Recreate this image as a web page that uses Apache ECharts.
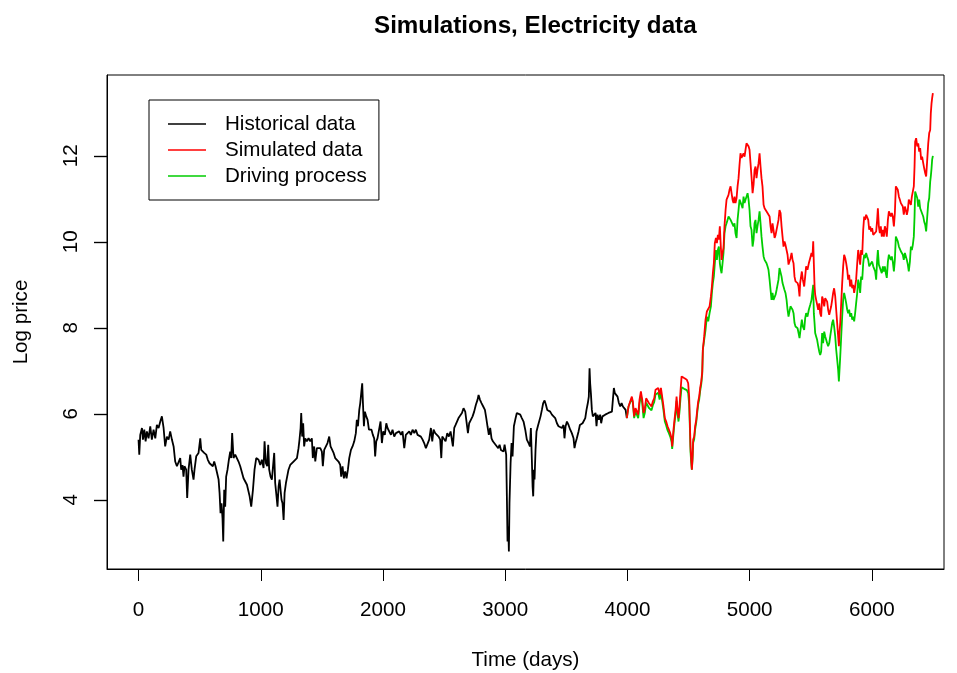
<!DOCTYPE html>
<html>
<head>
<meta charset="utf-8">
<title>Simulations, Electricity data</title>
<script src="https://cdn.jsdelivr.net/npm/echarts@6/dist/echarts.min.js"></script>
<style>
  html, body { margin: 0; padding: 0; background: #ffffff; }
  #chart { width: 957px; height: 673px; }
</style>
</head>
<body>
<div id="chart"></div>
<script>
// Tick positions on both axes
const xTicks = [0, 1000, 2000, 3000, 4000, 5000, 6000];
const yTicks = [4, 6, 8, 10, 12];

// Observed electricity log prices: [day, log price]
const historical = [
  [0,5.40],[6,5.05],[14,5.51],[28,5.67],[36,5.40],[47,5.63],[58,5.36],[68,5.59],[82,5.43],[96,5.71],
  [109,5.40],[123,5.63],[137,5.43],[150,5.74],[164,5.67],[178,5.82],[191,5.94],[205,5.67],[218,5.24],[232,5.47],
  [246,5.40],[259,5.59],[273,5.40],[287,5.24],[300,4.89],[314,4.78],[327,4.81],[341,4.97],[349,4.70],[360,4.81],
  [368,4.54],[376,4.78],[390,4.70],[398,4.04],[409,4.70],[423,5.05],[436,4.70],[450,4.47],[458,4.70],[472,5.01],
  [491,5.09],[505,5.43],[513,5.16],[526,5.16],[537,5.09],[554,5.05],[567,4.93],[581,4.85],[595,4.89],[608,4.78],
  [619,4.89],[630,4.78],[641,4.81],[655,4.47],[663,4.16],[671,3.69],[679,3.92],[687,3.57],[693,3.03],[701,4.23],
  [709,3.84],[717,4.54],[728,4.70],[739,4.93],[750,5.12],[758,4.97],[766,5.55],[777,4.97],[791,5.05],[805,5.05],
  [818,4.89],[832,4.78],[846,4.78],[859,4.50],[873,4.54],[887,4.35],[900,4.31],[909,4.08],[922,3.84],[936,4.23],
  [949,4.70],[963,4.97],[982,4.93],
  [996,4.81],[1009,4.93],[1023,4.74],[1031,5.36],[1042,4.85],[1053,4.78],[1061,5.28],[1069,4.70],[1080,4.54],[1091,4.47],
  [1102,4.50],[1110,5.09],[1118,4.39],[1129,4.08],[1137,3.84],[1146,4.31],[1154,4.47],[1162,4.23],[1170,4.00],[1178,3.92],
  [1187,3.53],[1195,4.16],[1206,4.39],[1216,4.54],[1227,4.70],[1241,4.81],[1255,4.78],[1268,4.89],[1282,4.85],[1296,4.97],
  [1309,5.20],[1317,5.40],[1326,5.67],[1331,6.02],[1339,5.47],[1347,5.78],[1355,5.24],[1364,5.43],[1377,5.36],[1391,5.43],
  [1405,5.36],[1418,5.43],[1426,4.97],[1437,5.24],[1446,4.89],[1459,5.20],[1473,5.16],[1487,5.20],[1500,5.12],[1508,4.78],
  [1519,5.16],[1533,5.12],[1546,5.32],[1560,5.47],[1571,5.24],[1582,5.24],[1596,5.09],[1609,4.97],[1623,4.93],[1636,4.89],
  [1650,4.81],[1658,4.54],[1669,4.78],[1680,4.50],[1691,4.66],[1702,4.50],[1713,4.70],[1724,4.97],[1738,5.16],[1751,5.24],
  [1765,5.36],[1778,5.55],[1786,5.86],[1795,5.71],[1806,6.09],[1814,6.25],[1822,6.48],[1830,6.71],[1836,6.25],[1844,5.71],
  [1852,6.05],[1863,5.94],[1874,5.86],[1885,5.63],[1896,5.59],[1906,5.63],[1917,5.51],[1928,5.43],[1936,5.01],[1945,5.36],
  [1955,5.43],[1969,5.47],[1980,5.82],[1991,5.32],[2002,5.59],[2015,5.51],
  [2027,5.78],[2037,5.67],[2051,5.63],[2065,5.51],[2078,5.63],[2092,5.47],[2106,5.55],[2119,5.51],[2133,5.59],[2147,5.51],
  [2160,5.59],[2174,5.20],[2187,5.51],[2201,5.47],[2215,5.59],[2228,5.51],[2242,5.63],[2256,5.55],[2269,5.63],[2283,5.51],
  [2297,5.47],[2310,5.47],[2324,5.40],[2337,5.32],[2351,5.20],[2365,5.24],[2378,5.40],[2392,5.67],[2403,5.36],[2414,5.63],
  [2427,5.55],[2441,5.59],[2455,5.47],[2468,5.40],[2477,4.97],[2485,5.47],[2498,5.51],[2512,5.36],[2526,5.55],[2539,5.47],
  [2553,5.59],[2564,5.63],[2572,5.24],[2583,5.67],[2594,5.74],[2605,5.78],[2618,5.90],[2632,5.86],[2646,6.02],[2659,6.13],
  [2673,6.05],[2686,6.09],[2695,5.55],[2705,5.78],[2719,5.86],[2733,5.94],[2746,6.05],[2760,6.21],[2774,6.33],[2782,6.44],
  [2793,6.33],[2806,6.25],[2820,6.17],[2834,6.09],[2845,5.90],[2855,5.71],[2866,5.51],[2877,5.67],[2888,5.43],[2899,5.36],
  [2910,5.40],[2921,5.28],[2932,5.32],[2943,5.20],[2954,5.28],[2965,5.16],[2976,5.20],[2986,5.12],[2995,5.28],
  [3008,5.05],[3014,4.00],[3019,3.03],[3025,3.38],[3030,2.80],[3035,3.92],[3044,4.85],[3052,5.32],[3060,5.01],
  [3071,5.71],[3082,5.86],[3095,6.02],[3109,6.02],[3123,5.98],[3136,5.90],[3150,5.82],[3164,5.63],[3177,5.40],[3191,5.32],
  [3202,5.24],[3210,5.67],[3218,4.93],[3224,4.31],[3229,4.08],[3235,4.70],[3240,4.47],[3248,5.16],[3256,5.59],[3267,5.71],
  [3278,5.74],[3289,5.94],[3300,6.09],[3311,6.25],[3322,6.31],[3333,6.21],[3344,6.09],[3355,6.05],[3368,6.05],[3382,5.98],
  [3395,6.02],[3409,5.90],[3423,5.78],[3436,5.71],[3450,5.74],[3464,5.67],[3477,5.74],[3485,5.43],[3494,5.71],[3505,5.82],
  [3518,5.74],[3532,5.63],[3545,5.55],[3559,5.43],[3567,5.20],[3575,5.32],[3586,5.43],[3600,5.59],[3611,5.74],[3622,5.71],
  [3633,5.78],[3644,5.74],[3655,5.90],[3665,6.09],[3676,6.25],[3684,6.40],[3690,7.06],[3695,6.71],[3701,6.48],[3709,6.09],
  [3717,5.94],[3728,5.98],[3739,6.02],[3747,5.71],[3755,5.98],[3766,5.86],[3777,5.98],[3785,5.78],[3796,5.94],[3807,5.98],
  [3818,5.98],[3832,6.02],[3845,6.02],[3859,6.05],[3873,6.05],[3881,6.33],[3889,6.60],[3897,6.48],[3908,6.52],[3919,6.40],
  [3930,6.25],[3941,6.17],[3952,6.25],[3963,6.17],[3974,6.21],[3985,6.09],[3995,5.90]
];

// Simulated path and its driving process: [day, simulated log price, driving process]
const simulation = [
  [3995,5.90,5.90],[4009,6.17,6.17],[4023,6.29,6.27],[4036,6.40,6.36],[4044,6.29,6.25],[4055,5.94,5.90],[4066,6.13,6.06],[4077,6.09,6.02],[4088,5.98,5.90],[4099,6.33,6.24],
  [4110,6.52,6.43],[4121,6.33,6.24],[4132,6.02,5.90],[4143,6.13,6.03],[4153,6.36,6.26],[4164,6.40,6.30],[4175,6.25,6.14],[4186,6.29,6.18],[4197,6.17,6.08],[4208,6.29,6.20],
  [4219,6.36,6.27],[4230,6.56,6.45],[4241,6.52,6.41],[4252,6.60,6.49],[4263,6.44,6.33],[4274,6.60,6.50],[4284,6.40,6.30],[4295,6.17,6.08],[4306,5.90,5.82],[4317,5.82,5.73],
  [4328,5.71,5.62],[4339,5.63,5.55],[4350,5.55,5.47],[4361,5.43,5.35],[4366,5.24,5.18],[4377,5.63,5.55],[4385,5.86,5.78],[4394,6.09,6.00],[4402,6.40,6.30],[4410,6.09,6.00],
  [4418,5.90,5.82],[4426,6.17,6.05],[4434,6.52,6.35],[4443,6.87,6.62],[4454,6.91,6.65],[4464,6.83,6.58],[4475,6.87,6.62],[4486,6.79,6.55],[4497,6.71,6.48],[4505,6.40,6.22],
  [4511,5.78,5.65],[4516,5.24,5.12],[4522,4.93,4.85],[4527,4.70,4.70],[4533,5.01,4.95],[4538,5.40,5.33],[4546,5.47,5.40],[4554,5.71,5.64],[4563,5.86,5.80],[4571,6.09,6.02],
  [4579,6.29,6.22],[4587,6.40,6.33],[4595,6.60,6.53],[4604,6.75,6.69],[4612,6.98,6.93],
  [4617,7.49,7.49],[4628,7.80,7.72],[4639,8.19,7.95],[4650,8.38,8.26],[4661,8.34,8.15],[4672,8.50,8.34],[4683,8.73,8.50],[4691,8.96,8.81],[4699,9.27,9.04],[4707,9.50,9.19],
  [4715,9.97,9.50],[4724,10.09,9.81],[4732,9.97,9.58],[4740,10.16,9.81],[4748,10.05,9.89],[4756,10.36,9.50],[4764,9.89,9.35],[4770,9.58,9.27],[4778,9.74,9.50],[4786,9.85,9.74],
  [4794,10.36,10.20],[4803,10.74,10.36],[4811,10.98,10.43],[4819,11.02,10.51],[4827,11.09,10.59],[4835,11.21,10.63],[4844,11.29,10.51],[4852,11.13,10.55],[4860,10.98,10.51],[4868,10.90,10.36],
  [4876,11.05,10.43],[4884,10.90,10.20],[4893,11.02,10.09],[4901,11.29,10.51],[4909,11.48,10.74],[4917,11.79,10.98],[4925,12.06,11.02],[4933,11.95,10.86],[4942,11.91,10.78],[4950,12.06,11.05],
  [4958,11.98,10.90],[4966,12.14,10.98],[4974,12.29,11.05],[4983,12.33,11.13],[4991,12.22,10.98],[4999,12.14,10.74],[5007,11.83,10.36],[5015,11.52,10.28],[5024,11.13,9.89],[5032,11.33,10.05],
  [5040,11.67,10.43],[5048,11.75,10.51],[5056,11.48,10.20],[5064,11.67,10.36],[5073,11.83,10.51],[5081,12.06,10.71],[5089,11.75,10.43],[5097,11.48,10.12],[5105,11.29,9.89],[5114,10.86,9.66],
  [5122,10.78,9.58],[5130,10.74,9.54],[5138,10.78,9.50],[5146,10.67,9.43],[5154,10.71,9.35],[5163,10.59,9.12],[5171,10.36,8.88],[5179,10.20,8.65],[5187,10.43,8.81],[5195,10.28,8.65],
  [5204,10.09,8.61],[5212,10.16,8.77],[5220,10.20,8.88],[5228,10.16,8.85],[5236,10.51,9.12],[5244,10.74,9.39],[5253,10.67,9.35],[5261,10.36,9.19],[5269,10.12,9.04],[5277,9.89,8.96],
  [5285,10.01,8.88],[5293,9.93,8.81],[5302,9.89,8.65],[5310,9.70,8.42],[5318,9.47,8.26],[5326,9.43,8.30],[5334,9.62,8.50],[5343,9.74,8.53],[5351,9.58,8.42],[5359,9.50,8.34],
  [5367,9.19,8.11],[5375,9.08,8.03],[5383,9.12,8.07],[5392,9.04,7.99],[5400,8.96,7.88],[5408,8.73,7.76],
  [5413,9.04,7.88],[5427,9.31,8.19],[5435,9.12,8.03],[5446,8.96,7.95],[5454,9.19,8.22],[5462,9.43,8.34],[5473,9.35,8.26],[5484,9.50,8.42],[5495,9.62,8.53],[5506,9.74,8.65],
  [5514,9.66,8.69],[5520,10.01,9.00],[5525,9.50,8.34],[5531,8.96,8.11],[5536,8.77,7.88],[5544,8.65,7.80],[5552,8.69,7.72],[5561,8.42,7.57],[5569,8.57,7.45],[5577,8.34,7.37],
  [5585,8.26,7.45],[5593,8.73,7.88],[5601,8.65,7.64],[5610,8.50,7.91],[5618,8.69,7.80],[5626,8.65,7.72],[5634,8.61,7.64],[5642,8.42,7.57],[5651,8.30,7.64],[5659,8.34,7.80],
  [5667,8.50,7.95],[5675,8.65,8.11],[5683,8.81,8.19],[5691,8.92,8.03],[5700,8.73,7.80],[5708,8.42,7.49],[5716,8.11,7.26],[5724,7.80,7.02],[5730,7.57,6.75],[5735,7.88,7.02],
  [5741,8.11,7.33],[5749,8.57,7.80],[5757,9.04,8.26],[5765,9.43,8.65],[5773,9.70,8.81],[5782,9.62,8.69],[5790,9.50,8.57],[5798,9.35,8.42],[5806,9.12,8.34],[5814,9.23,8.42],
  [5822,8.96,8.26],[5831,9.12,8.34],[5839,8.92,8.19],[5847,9.00,8.26],[5855,8.81,8.15],[5863,8.96,8.34],[5871,9.12,8.57],[5880,9.50,8.81],[5888,9.81,9.12],[5896,9.66,9.00],
  [5904,9.47,8.81],[5912,9.81,9.19],[5921,9.70,9.12],[5929,10.28,9.50],[5937,10.59,9.70],[5945,10.51,9.62],[5953,10.63,9.74],[5961,10.59,9.66],[5970,10.51,9.58],[5978,10.28,9.43],
  [5986,10.36,9.47],
  [5994,10.24,9.47],[6002,10.32,9.54],[6011,10.16,9.43],[6019,10.20,9.43],[6027,10.12,9.31],[6035,10.24,9.12],[6043,10.51,9.58],[6049,10.78,9.81],[6057,10.36,9.47],[6065,10.20,9.43],
  [6073,10.36,9.50],[6081,10.12,9.27],[6090,10.28,9.43],[6098,10.12,9.31],[6106,10.36,9.43],[6114,10.28,9.27],[6122,10.12,9.16],[6131,10.51,9.54],[6139,10.71,9.70],[6147,10.67,9.66],
  [6155,10.59,9.58],[6163,10.67,9.66],[6171,10.59,9.54],[6180,10.36,9.31],[6188,10.67,9.58],[6196,11.29,10.12],[6204,11.33,10.16],[6212,11.21,10.01],[6221,11.05,9.89],[6229,10.98,9.85],
  [6237,10.90,9.78],[6245,10.94,9.81],[6253,10.82,9.70],[6261,10.63,9.58],[6270,10.82,9.74],[6278,10.74,9.66],[6286,10.63,9.58],[6294,10.74,9.47],[6302,10.98,9.31],[6311,11.02,9.54],
  [6319,10.86,9.89],[6327,11.05,9.81],[6335,11.09,9.93],[6343,11.29,10.12],[6349,11.75,10.59],[6354,12.33,11.17],[6362,12.41,11.13],[6371,12.22,11.02],[6379,12.29,10.82],[6387,12.10,10.98],
  [6395,12.18,10.78],[6403,11.91,10.74],[6411,11.98,10.82],[6420,11.83,10.59],[6428,11.71,10.47],[6436,11.60,10.40],[6444,11.52,10.24],[6452,11.87,10.55],[6461,12.29,10.90],[6469,12.53,11.02],
  [6477,12.60,11.40],[6482,12.99,11.52],[6488,13.22,11.71],[6493,13.34,11.91],[6499,13.46,12.00]
];

const FONT = "'Liberation Sans', Arial, Helvetica, sans-serif";
const INK = '#000000';
const LABEL_SIZE = 20.6;
const X_MIN = -258, X_MAX = 6590;
const Y_MIN = 2.39, Y_MAX = 13.88;
const Y_TICK_LEN = 13;

const simulatedPath = simulation.map(r => [r[0], r[1]]);
const drivingPath = simulation.map(r => [r[0], r[2]]);

// Outward tick marks on the left axis, drawn by a custom series so they follow the y scale
function renderYTick(params, api) {
  const p = api.coord([X_MIN, api.value(0)]);
  const y = Math.round(p[1]) + 0.5;
  return {
    type: 'line',
    silent: true,
    shape: { x1: p[0] - Y_TICK_LEN, y1: y, x2: p[0], y2: y },
    style: { stroke: INK, lineWidth: 1.2 }
  };
}

const chart = echarts.init(document.getElementById('chart'), null, { renderer: 'canvas' });

chart.setOption({
  animation: false,
  title: {
    text: 'Simulations, Electricity data',
    left: 374,
    top: 14,
    padding: 0,
    textStyle: { fontFamily: FONT, fontSize: 24.2, fontWeight: 'bold', color: INK }
  },
  legend: {
    orient: 'vertical',
    left: 149,
    top: 100,
    padding: [11, 12, 11, 19],
    borderColor: INK,
    borderWidth: 1,
    borderRadius: 0,
    icon: 'rect',
    itemWidth: 38,
    itemHeight: 1.5,
    itemGap: 0,
    selectedMode: false,
    textStyle: { fontFamily: FONT, fontSize: LABEL_SIZE, lineHeight: 26, color: INK, padding: [0, 0, 0, 14] },
    data: ['Historical data', 'Simulated data', 'Driving process']
  },
  grid: {
    left: 107,
    right: 13,
    top: 75,
    bottom: 104,
    outerBoundsMode: 'none',
    show: true,
    borderColor: INK,
    borderWidth: 1
  },
  xAxis: {
    type: 'value',
    min: X_MIN,
    max: X_MAX,
    axisLine: { show: true, onZero: false, lineStyle: { color: INK, width: 1 } },
    splitLine: { show: false },
    axisTick: { show: true, inside: false, length: 12, customValues: xTicks, lineStyle: { color: INK, width: 1 } },
    axisLabel: { customValues: xTicks, margin: 31, fontFamily: FONT, fontSize: LABEL_SIZE, color: INK, formatter: v => String(v) },
    name: 'Time (days)',
    nameLocation: 'middle',
    nameGap: 81,
    nameTextStyle: { fontFamily: FONT, fontSize: LABEL_SIZE, color: INK }
  },
  yAxis: {
    type: 'value',
    min: Y_MIN,
    max: Y_MAX,
    axisLine: { show: true, onZero: false, lineStyle: { color: INK, width: 1 } },
    splitLine: { show: false },
    axisTick: { show: true, inside: false, length: Y_TICK_LEN, customValues: yTicks, lineStyle: { color: INK, width: 1.2 } },
    axisLabel: { customValues: yTicks, rotate: 90, margin: 25, fontFamily: FONT, fontSize: LABEL_SIZE, color: INK, formatter: v => String(v) },
    name: 'Log price',
    nameLocation: 'middle',
    nameRotate: 90,
    nameGap: 75,
    nameTextStyle: { fontFamily: FONT, fontSize: LABEL_SIZE, color: INK }
  },
  series: [
    {
      name: 'Historical data',
      type: 'line',
      data: historical,
      symbol: 'none',
      showSymbol: false,
      silent: true,
      z: 2,
      itemStyle: { color: '#000000' },
      lineStyle: { color: '#000000', width: 1.8 }
    },
    {
      name: 'Simulated data',
      type: 'line',
      data: simulatedPath,
      symbol: 'none',
      showSymbol: false,
      silent: true,
      z: 4,
      itemStyle: { color: '#ff0000' },
      lineStyle: { color: '#ff0000', width: 1.8 }
    },
    {
      name: 'Driving process',
      type: 'line',
      data: drivingPath,
      symbol: 'none',
      showSymbol: false,
      silent: true,
      z: 3,
      itemStyle: { color: '#00cd00' },
      lineStyle: { color: '#00cd00', width: 1.8 }
    },
    {
      name: 'y ticks',
      type: 'custom',
      data: yTicks.map(v => [v]),
      encode: { y: 0 },
      renderItem: renderYTick,
      clip: false,
      silent: true,
      z: 10
    }
  ]
});
</script>
</body>
</html>
